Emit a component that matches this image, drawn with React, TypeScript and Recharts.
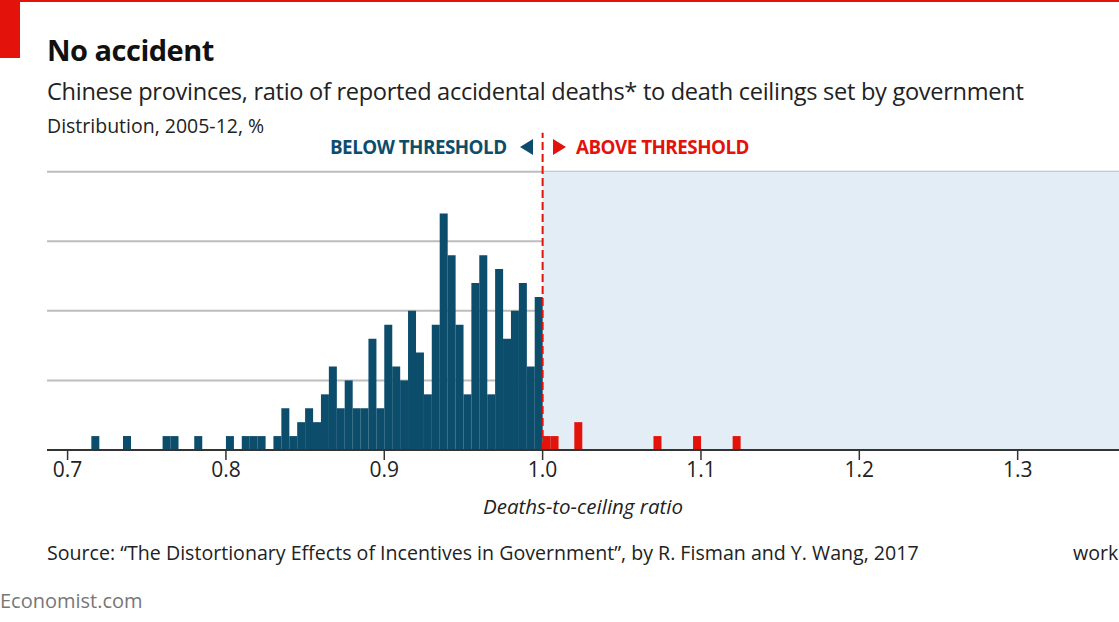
import React from "react";
import { ComposedChart, Bar, XAxis, YAxis, CartesianGrid, ReferenceArea, ReferenceLine, Cell } from "recharts";

const blueBinStarts = [0.715,0.735,0.76,0.765,0.78,0.8,0.81,0.815,0.82,0.83,0.835,0.84,0.845,0.85,0.855,0.86,0.865,0.87,0.875,0.88,0.885,0.89,0.895,0.9,0.905,0.91,0.915,0.92,0.925,0.93,0.935,0.94,0.945,0.95,0.955,0.96,0.965,0.97,0.975,0.98,0.985,0.99,0.995];
const blueValues = [1,1,1,1,1,1,1,1,1,1,3,1,2,3,2,4,6,3,5,3,3,8,3,9,6,5,10,7,4,9,17,14,9,4,12,14,4,13,8,10,12,6,11];
const redBinStarts = [1.0,1.005,1.02,1.07,1.095,1.12];
const redValues = [1,1,2,1,1,1];
const xTicks = [0.7,0.8,0.9,1.0,1.1,1.2,1.3];
const gridValues = [5,10,15,20];

const BLUE = "#0c4d6c";
const RED = "#e3120b";

function buildData() {
  const rows: { x: number; v: number; red: boolean }[] = [];
  for (let i = 0; i < 134; i++) {
    const s = Math.round((0.69 + i * 0.005) * 1000) / 1000;
    let v = 0; let red = false;
    const bi = blueBinStarts.findIndex((b) => Math.abs(b - s) < 1e-6);
    if (bi >= 0) v = blueValues[bi];
    const ri = redBinStarts.findIndex((b) => Math.abs(b - s) < 1e-6);
    if (ri >= 0) { v = redValues[ri]; red = true; }
    rows.push({ x: s + 0.0025, v, red });
  }
  return rows;
}
const data = buildData();

const font = "'Open Sans', 'DejaVu Sans', sans-serif";

export default function App() {
  return (
    <div style={{ position: "absolute", left: 0, top: 0, width: 1119, height: 622, background: "#fff", fontFamily: font, overflow: "hidden" }}>
      <div style={{ position: "absolute", left: 0, top: 0, width: 1119, height: 2, background: RED }} />
      <div style={{ position: "absolute", left: 0, top: 0, width: 20, height: 58, background: RED }} />
      <div style={{ position: "absolute", left: 47, top: 30, fontSize: 29, fontWeight: 700, color: "#111", letterSpacing: -0.5 }}>No accident</div>
      <div style={{ position: "absolute", left: 47, top: 75, fontSize: 23.6, color: "#222", letterSpacing: -0.3, whiteSpace: "nowrap" }}>Chinese provinces, ratio of reported accidental deaths* to death ceilings set by government</div>
      <div style={{ position: "absolute", left: 47, top: 112, fontSize: 19.5, color: "#222", whiteSpace: "nowrap" }}>Distribution, 2005-12, %</div>
      <div style={{ position: "absolute", left: 330, top: 134, fontSize: 18.8, fontWeight: 700, color: BLUE, letterSpacing: -0.5, whiteSpace: "nowrap" }}>BELOW THRESHOLD</div>
      <div style={{ position: "absolute", left: 520, top: 139, width: 0, height: 0, borderTop: "8px solid transparent", borderBottom: "8px solid transparent", borderRight: `13px solid ${BLUE}` }} />
      <div style={{ position: "absolute", left: 553, top: 139, width: 0, height: 0, borderTop: "8px solid transparent", borderBottom: "8px solid transparent", borderLeft: `13px solid ${RED}` }} />
      <div style={{ position: "absolute", left: 576, top: 134, fontSize: 18.8, fontWeight: 700, color: RED, letterSpacing: -0.5, whiteSpace: "nowrap" }}>ABOVE THRESHOLD</div>
      <div style={{ position: "absolute", left: 0, top: 0 }}>
        <ComposedChart width={1119} height={622} data={data} margin={{ top: 116, right: 0, left: 47, bottom: 142 }} barCategoryGap={0} barGap={0}>
          <ReferenceArea x1={1.0} x2={1.364} y1={0} y2={20} fill="#e2edf5" fillOpacity={1} stroke="none" />
          <CartesianGrid horizontal vertical={false} horizontalValues={gridValues} stroke="#bdbdbd" strokeWidth={2} />
          <XAxis dataKey="x" type="number" domain={[0.687, 1.364]} ticks={xTicks} allowDataOverflow
            tickFormatter={(v: number) => v.toFixed(1)} height={30}
            axisLine={{ stroke: "#333", strokeWidth: 2 }} tickLine={{ stroke: "#333", strokeWidth: 1.5 }} tickSize={10}
            tick={{ fontSize: 21, fill: "#222", fontFamily: font }}
            label={{ value: "Deaths-to-ceiling ratio", position: "insideBottom", offset: -34, style: { fontStyle: "italic", fontSize: 20.5, fill: "#222", fontFamily: font } }} />
          <YAxis hide domain={[0, 24]} ticks={gridValues} allowDataOverflow />
          <Bar dataKey="v" isAnimationActive={false}>
            {data.map((d, i) => <Cell key={i} fill={d.red ? RED : BLUE} />)}
          </Bar>
          <ReferenceLine segment={[{ x: 1.0, y: 0 }, { x: 1.0, y: 22.8 }]} stroke={RED} strokeWidth={2} strokeDasharray="8 4" ifOverflow="visible" />
        </ComposedChart>
      </div>
      <div style={{ position: "absolute", left: 47, top: 539, fontSize: 19.6, color: "#222", whiteSpace: "nowrap" }}>Source: “The Distortionary Effects of Incentives in Government”, by R. Fisman and Y. Wang, 2017</div>
      <div style={{ position: "absolute", left: 1073, top: 539, fontSize: 19.6, color: "#222" }}>work</div>
      <div style={{ position: "absolute", left: 0, top: 587, fontSize: 20, color: "#777" }}>Economist.com</div>
    </div>
  );
}
